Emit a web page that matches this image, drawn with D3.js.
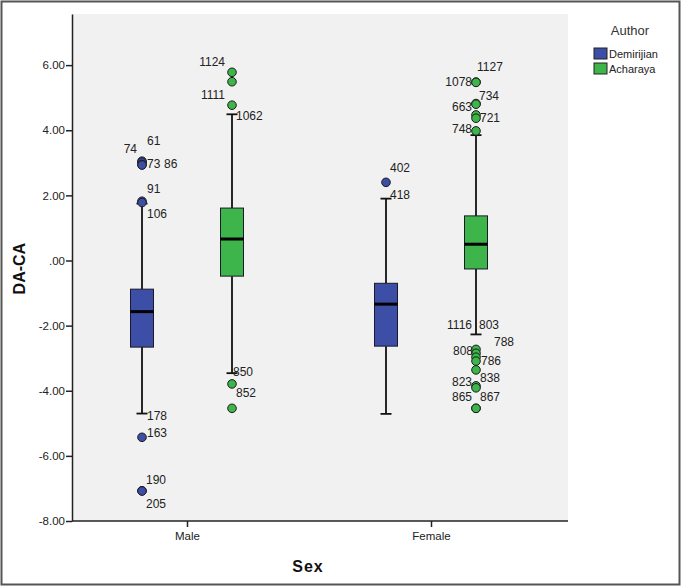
<!DOCTYPE html>
<html>
<head>
<meta charset="utf-8">
<script src="https://cdn.jsdelivr.net/npm/d3@7"></script>
<style>
  body { margin: 0; background: #fff; }
  text { font-family: "Liberation Sans", Arial, sans-serif; }
</style>
</head>
<body>
<div id="chart"></div>
<script>
const width = 681, height = 586;

// data
const sexes = ["Male", "Female"];
const authors = ["Demirijian", "Acharaya"];
const yTicks = [6, 4, 2, 0, -2, -4, -6, -8];

const boxStats = [
  { sex: "Male",   author: "Demirijian", low: -4.70, q1: -2.66, median: -1.57, q3: -0.88, high: 1.75 },
  { sex: "Male",   author: "Acharaya",   low: -3.46, q1: -0.48, median: 0.66,  q3: 1.61,  high: 4.49 },
  { sex: "Female", author: "Demirijian", low: -4.71, q1: -2.63, median: -1.34, q3: -0.70, high: 1.90 },
  { sex: "Female", author: "Acharaya",   low: -2.27, q1: -0.26, median: 0.50,  q3: 1.37,  high: 3.85 }
];

// case numbers; null = point without label
const outliers = [
  { sex: "Male", author: "Demirijian", id: "61",  value: 3.05 },
  { sex: "Male", author: "Demirijian", id: "74",  value: 3.02 },
  { sex: "Male", author: "Demirijian", id: "73",  value: 2.95 },
  { sex: "Male", author: "Demirijian", id: "86",  value: 2.93 },
  { sex: "Male", author: "Demirijian", id: "91",  value: 1.82 },
  { sex: "Male", author: "Demirijian", id: "106", value: 1.78 },
  { sex: "Male", author: "Demirijian", id: "178", value: -4.70 },
  { sex: "Male", author: "Demirijian", id: "163", value: -5.43 },
  { sex: "Male", author: "Demirijian", id: "190", value: -7.07 },
  { sex: "Male", author: "Demirijian", id: "205", value: -7.08 },
  { sex: "Male", author: "Acharaya", id: "1124", value: 5.78 },
  { sex: "Male", author: "Acharaya", id: null,   value: 5.49 },
  { sex: "Male", author: "Acharaya", id: "1111", value: 4.77 },
  { sex: "Male", author: "Acharaya", id: "1062", value: 4.49 },
  { sex: "Male", author: "Acharaya", id: "850",  value: -3.46 },
  { sex: "Male", author: "Acharaya", id: "852",  value: -3.79 },
  { sex: "Male", author: "Acharaya", id: null,   value: -4.54 },
  { sex: "Female", author: "Demirijian", id: "402", value: 2.40 },
  { sex: "Female", author: "Demirijian", id: "418", value: 1.90 },
  { sex: "Female", author: "Acharaya", id: "1127", value: 5.48 },
  { sex: "Female", author: "Acharaya", id: "1078", value: 5.47 },
  { sex: "Female", author: "Acharaya", id: "734",  value: 4.82 },
  { sex: "Female", author: "Acharaya", id: "663",  value: 4.80 },
  { sex: "Female", author: "Acharaya", id: "721",  value: 4.47 },
  { sex: "Female", author: "Acharaya", id: null,   value: 4.37 },
  { sex: "Female", author: "Acharaya", id: "748",  value: 3.98 },
  { sex: "Female", author: "Acharaya", id: "1116", value: -2.27 },
  { sex: "Female", author: "Acharaya", id: "803",  value: -2.27 },
  { sex: "Female", author: "Acharaya", id: "808",  value: -2.73 },
  { sex: "Female", author: "Acharaya", id: "788",  value: -2.85 },
  { sex: "Female", author: "Acharaya", id: null,   value: -2.97 },
  { sex: "Female", author: "Acharaya", id: "786",  value: -3.09 },
  { sex: "Female", author: "Acharaya", id: null,   value: -3.36 },
  { sex: "Female", author: "Acharaya", id: "823",  value: -3.85 },
  { sex: "Female", author: "Acharaya", id: "838",  value: -3.91 },
  { sex: "Female", author: "Acharaya", id: "865",  value: -4.54 },
  { sex: "Female", author: "Acharaya", id: "867",  value: -4.54 }
];

// where each case label sits next to its point: [anchor, dx, dy]
const labelPlace = {
  "61": ["start", 5, -16], "74": ["end", -5, -9], "73": ["start", 5, 4], "86": ["start", 22, 3],
  "91": ["start", 5, -8], "106": ["start", 5, 15], "178": ["start", 5, 6], "163": ["start", 5, 0],
  "190": ["start", 4, -7], "205": ["start", 4, 17],
  "1124": ["end", -7, -6], "1111": ["end", -7, -6], "1062": ["start", 4, 6],
  "850": ["start", 1, 3], "852": ["start", 4, 13],
  "402": ["start", 4, -10], "418": ["start", 4, 0],
  "1127": ["start", 1, -11], "1078": ["end", -4, 4], "734": ["start", 3, -4], "663": ["end", -4, 7],
  "721": ["start", 4, 7], "748": ["end", -4, 2],
  "1116": ["end", -4, -5], "803": ["start", 3, -5], "808": ["end", -3, 6], "788": ["start", 18, -7],
  "786": ["start", 5, 4], "823": ["end", -4, 0], "838": ["start", 4, -6],
  "865": ["end", -4, -7], "867": ["start", 4, -7]
};

const colors = { "Demirijian": "#3c4ea5", "Acharaya": "#3db54a" };

const plot = { left: 72, right: 568, top: 14, bottom: 521 };

const svg = d3.select("#chart").append("svg")
    .attr("width", width)
    .attr("height", height);

// outer frame
svg.append("rect")
    .attr("x", 1.5).attr("y", 1.5)
    .attr("width", width - 3).attr("height", height - 3)
    .attr("fill", "#fff")
    .attr("stroke", "#555")
    .attr("stroke-width", 2);

svg.append("rect")
    .attr("x", plot.left).attr("y", plot.top)
    .attr("width", plot.right - plot.left).attr("height", plot.bottom - plot.top)
    .attr("fill", "#f1f1f1");

const y = d3.scaleLinear().domain([-8, 7.57]).range([plot.bottom, plot.top]);
const x = d3.scalePoint().domain(sexes).range([187, 431]);
const xa = d3.scalePoint().domain(authors).range([-45, 45]);

const fmt = v => v.toFixed(2).replace(/^0\./, ".");

// y axis
const yAxis = svg.append("g")
    .attr("transform", "translate(" + plot.left + ",0)")
    .call(d3.axisLeft(y).tickValues(yTicks).tickFormat(fmt).tickSize(6).tickPadding(1).tickSizeOuter(0));
yAxis.select(".domain").attr("stroke", "#222").attr("stroke-width", 1.5);
yAxis.selectAll(".tick line").attr("stroke", "#222").attr("stroke-width", 1.5);
yAxis.selectAll(".tick text").attr("font-size", 11.5).attr("fill", "#222")
    .style("font-family", "'Liberation Sans', Arial, sans-serif");

// x axis
svg.append("line")
    .attr("x1", plot.left).attr("x2", plot.right)
    .attr("y1", plot.bottom).attr("y2", plot.bottom)
    .attr("stroke", "#222").attr("stroke-width", 1.5);
const xAxis = svg.append("g")
    .attr("transform", "translate(0," + plot.bottom + ")")
    .call(d3.axisBottom(x).tickSize(6).tickPadding(5).tickSizeOuter(0));
xAxis.select(".domain").remove();
xAxis.selectAll(".tick line").attr("stroke", "#222").attr("stroke-width", 1.5);
xAxis.selectAll(".tick text").attr("font-size", 11.5).attr("fill", "#222")
    .style("font-family", "'Liberation Sans', Arial, sans-serif");

// axis titles
svg.append("text")
    .attr("transform", "translate(25," + y(-0.25) + ") rotate(-90)")
    .attr("text-anchor", "middle")
    .attr("font-size", 16).attr("font-weight", "bold")
    .attr("fill", "#111")
    .text("DA-CA");
svg.append("text")
    .attr("x", 308).attr("y", 572)
    .attr("text-anchor", "middle")
    .attr("font-size", 16).attr("font-weight", "bold")
    .attr("letter-spacing", 1)
    .attr("fill", "#111")
    .text("Sex");

// boxes
const boxW = 23, capW = 11;
const boxes = svg.append("g").selectAll("g")
    .data(boxStats).enter()
    .append("g")
    .attr("transform", d => "translate(" + (x(d.sex) + xa(d.author)) + ",0)");

boxes.append("line")
    .attr("x1", 0).attr("x2", 0)
    .attr("y1", d => y(d.high)).attr("y2", d => y(d.q3))
    .attr("stroke", "#111").attr("stroke-width", 1.8);
boxes.append("line")
    .attr("x1", 0).attr("x2", 0)
    .attr("y1", d => y(d.q1)).attr("y2", d => y(d.low))
    .attr("stroke", "#111").attr("stroke-width", 1.8);
boxes.append("line")
    .attr("x1", -capW / 2).attr("x2", capW / 2)
    .attr("y1", d => y(d.high)).attr("y2", d => y(d.high))
    .attr("stroke", "#111").attr("stroke-width", 1.8);
boxes.append("line")
    .attr("x1", -capW / 2).attr("x2", capW / 2)
    .attr("y1", d => y(d.low)).attr("y2", d => y(d.low))
    .attr("stroke", "#111").attr("stroke-width", 1.8);
boxes.append("rect")
    .attr("x", -boxW / 2).attr("width", boxW)
    .attr("y", d => y(d.q3)).attr("height", d => y(d.q1) - y(d.q3))
    .attr("fill", d => colors[d.author])
    .attr("stroke", "#1a1a2a").attr("stroke-width", 1);
boxes.append("line")
    .attr("x1", -boxW / 2).attr("x2", boxW / 2)
    .attr("y1", d => y(d.median)).attr("y2", d => y(d.median))
    .attr("stroke", "#000").attr("stroke-width", 3);

// outlier points (cases sitting on a whisker end keep only their label)
const statOf = d => boxStats.find(b => b.sex === d.sex && b.author === d.author);
const pts = svg.append("g");
pts.selectAll("circle")
    .data(outliers.filter(d => d.value > statOf(d).high || d.value < statOf(d).low)).enter()
    .append("circle")
    .attr("cx", d => x(d.sex) + xa(d.author))
    .attr("cy", d => y(d.value))
    .attr("r", 4.3)
    .attr("fill", d => colors[d.author])
    .attr("stroke", "#1b1b1b")
    .attr("stroke-width", 1);

pts.selectAll("text")
    .data(outliers.filter(d => d.id !== null)).enter()
    .append("text")
    .attr("x", d => x(d.sex) + xa(d.author) + labelPlace[d.id][1])
    .attr("y", d => y(d.value) + labelPlace[d.id][2])
    .attr("text-anchor", d => labelPlace[d.id][0])
    .attr("font-size", 12)
    .attr("fill", "#222")
    .text(d => d.id);

// legend
const legend = svg.append("g");
legend.append("text")
    .attr("x", 630).attr("y", 35)
    .attr("text-anchor", "middle")
    .attr("font-size", 13).attr("fill", "#333")
    .text("Author");
const li = legend.selectAll("g")
    .data(authors).enter()
    .append("g")
    .attr("transform", (d, i) => "translate(594," + (48 + i * 15) + ")");
li.append("rect")
    .attr("width", 13).attr("height", 11)
    .attr("fill", d => colors[d])
    .attr("stroke", "#222").attr("stroke-width", 1);
li.append("text")
    .attr("x", 15).attr("y", 10)
    .attr("font-size", 11).attr("fill", "#222")
    .text(d => d);
</script>
</body>
</html>
